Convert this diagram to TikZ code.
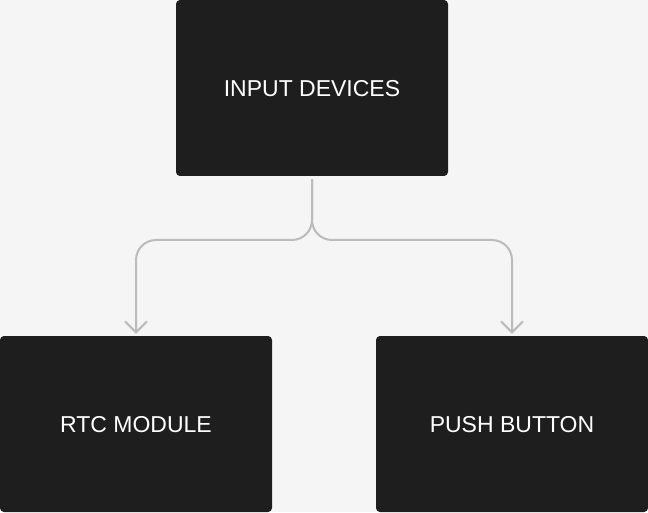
\documentclass[tikz,border=0pt]{standalone}
\usepackage{fontspec}
\setmainfont{Liberation Sans}
\usetikzlibrary{arrows.meta}
\definecolor{bgc}{HTML}{F5F5F5}
\definecolor{boxc}{HTML}{1E1E1E}
\definecolor{linec}{HTML}{BBBBBB}
\tikzset{
  darkbox/.style={fill=boxc, draw=none, rounded corners=4pt, minimum width=272pt, minimum height=176pt, inner sep=0pt, text=white, text depth=0pt, font=\fontsize{23}{27}\selectfont},
  conn/.style={draw=linec, line width=2pt, rounded corners=20pt, -{Straight Barb[length=11pt,width=22pt,line width=2pt]}}
}
\begin{document}
\begin{tikzpicture}[x=1pt,y=1pt]
\useasboundingbox (0,0) rectangle (648,512);
\fill[bgc] (0,0) rectangle (648,512);
\node[darkbox] (top) at (312,424) {INPUT DEVICES};
\node[darkbox] (rtc) at (136,88) {RTC MODULE};
\node[darkbox] (push) at (512,88) {PUSH BUTTON};
\coordinate (split) at (312,272);
\draw[conn] ([yshift=-3pt]top.south) -- (split) -| ([yshift=2pt]rtc.north);
\draw[conn] ([yshift=-3pt]top.south) -- (split) -| ([yshift=2pt]push.north);
\end{tikzpicture}
\end{document}
